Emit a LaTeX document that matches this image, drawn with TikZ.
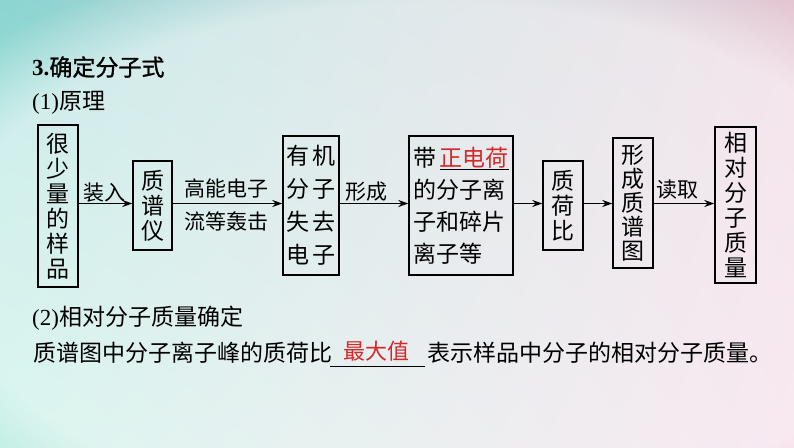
\documentclass[tikz,border=0pt]{standalone}
\usepackage{fontspec}
\setmainfont{Liberation Serif}
\newfontfamily\cjk{Noto Sans CJK SC}
\newfontfamily\cjkbold[FakeBold=1.2]{Noto Sans CJK SC}
\usetikzlibrary{arrows.meta,fadings,shadings}
\definecolor{bgUL}{HTML}{8CD5D1}
\definecolor{bgUR}{HTML}{E4C6D3}
\definecolor{bgLL}{HTML}{B2ECDE}
\definecolor{bgLR}{HTML}{F2CFE0}
\definecolor{redtxt}{HTML}{D62828}
\tikzset{
  box/.style={draw=black, line width=1.4pt, inner sep=0pt, align=center,
    font=\cjk\fontsize{23}{25}\selectfont},
  arr/.style={-{Stealth[length=10pt,width=7pt]}, line width=1.3pt},
  lbl/.style={inner sep=0pt, align=center, font=\cjk\fontsize{21}{33}\selectfont},
  txt/.style={inner sep=0pt, anchor=west, font=\fontsize{23}{26}\selectfont},
}
\begin{document}
\begin{tikzpicture}[x=1pt,y=-1pt]
\useasboundingbox (0,0) rectangle (794,447);
% background
\shade[upper left=bgUL, upper right=bgUR, lower left=bgLL, lower right=bgLR] (0,0) rectangle (794,447);
\fill[white, fill opacity=0.55, path fading=circle with fuzzy edge 20 percent] (430,260) ellipse [x radius=600, y radius=320];

% headings
\node[txt] (title) at (32,67) {\textbf{3.}\cjkbold 确定分子式};
\node[txt] (p1) at (32,103) {(1)\cjk 原理};

% boxes
\node[box, minimum width=40pt, minimum height=162pt] (b1) at (58,206) {很\\少\\量\\的\\样\\品};
\node[box, minimum width=39pt, minimum height=89pt] (b2) at (152.5,205.5) {质\\谱\\仪};
\node[box, minimum width=56pt, minimum height=139pt, font=\cjk\fontsize{23}{33}\selectfont] (b3) at (311,205.5) {有\,机\\分\,子\\失\,去\\电\,子};
\node[box, minimum width=104pt, minimum height=139pt, align=left, font=\cjk\fontsize{23}{32}\selectfont] (b4) at (461,205.5) {带\,\underline{\textcolor{redtxt}{正电荷}}\\的分子离\\子和碎片\\离子等};
\node[box, minimum width=40pt, minimum height=89pt] (b5) at (563,205.5) {质\\荷\\比};
\node[box, minimum width=40pt, minimum height=130pt, font=\cjk\fontsize{23}{24}\selectfont] (b6) at (633,203) {形\\成\\质\\谱\\图};
\node[box, minimum width=41pt, minimum height=156pt] (b7) at (735.5,205) {相\\对\\分\\子\\质\\量};

% arrows
\coordinate (ay) at (0,203.5);
\draw[arr] (b1.east |- ay) -- (b2.west |- ay);
\draw[arr] (b2.east |- ay) -- (b3.west |- ay);
\draw[arr] (b3.east |- ay) -- (b4.west |- ay);
\draw[arr] (b4.east |- ay) -- (b5.west |- ay);
\draw[arr] (b5.east |- ay) -- (b6.west |- ay);
\draw[arr] (b6.east |- ay) -- (b7.west |- ay);

% arrow labels
\node[lbl] (l1) at (104,193) {装入};
\node[lbl] (l2) at (226,205) {高能电子\\流等轰击};
\node[lbl] (l3) at (366,192) {形成};
\node[lbl] (l4) at (677,190) {读取};

% part (2)
\node[txt] (p2) at (32,318) {(2)\cjk 相对分子质量确定};
\node[txt] (s1) at (33,353) {\cjk 质谱图中分子离子峰的质荷比};
\coordinate (u1) at (330,366);
\coordinate (u2) at (425,366);
\draw[line width=0.9pt] (u1) -- (u2);
\node[inner sep=0pt, text=redtxt, font=\cjk\fontsize{22}{24}\selectfont] (ans) at (376,351) {最大值};
\node[txt] (s2) at (427,353) {\cjk 表示样品中分子的相对分子质量。};
\end{tikzpicture}
\end{document}
